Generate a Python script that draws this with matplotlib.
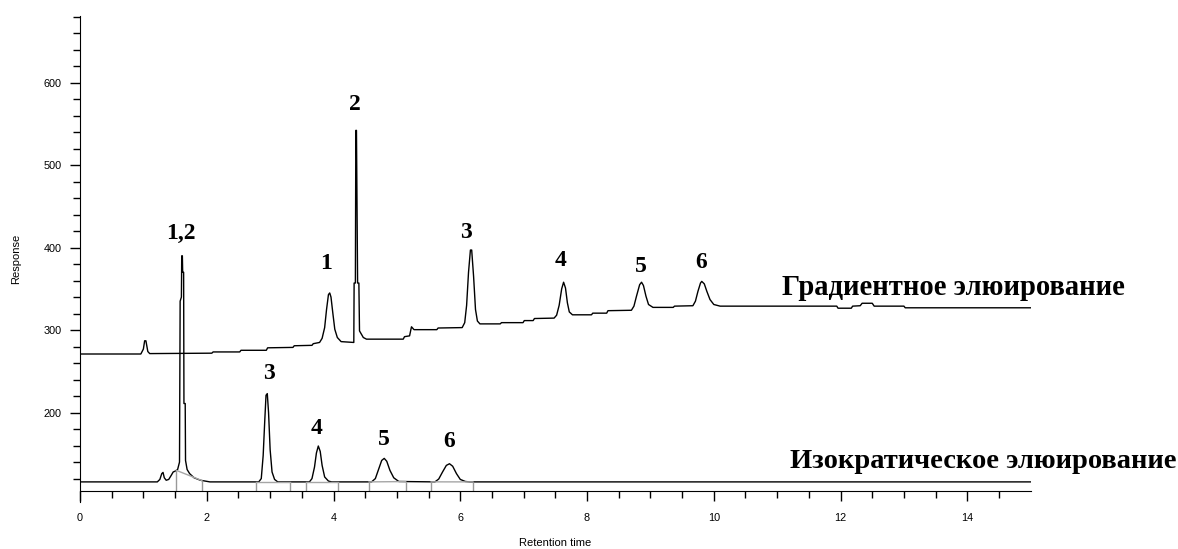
import numpy as np
import matplotlib.pyplot as plt
from matplotlib.ticker import FixedLocator, MultipleLocator

# gradient elution trace (retention time, response)
grad_time = [0.00, 0.96, 1.00, 1.02, 1.04, 1.07, 1.10, 2.08, 2.10, 2.52, 2.54, 2.94, 2.96, 3.36,
             3.38, 3.66, 3.68, 3.78, 3.82, 3.86, 3.89, 3.92, 3.94, 3.96, 3.99, 4.02, 4.06, 4.12,
             4.32, 4.325, 4.345, 4.352, 4.362, 4.38, 4.40, 4.41, 4.47, 4.52, 5.10, 5.12, 5.20, 5.23,
             5.27, 5.63, 5.65, 6.03, 6.07, 6.10, 6.13, 6.16, 6.18, 6.21, 6.24, 6.27, 6.31, 6.63,
             6.65, 6.99, 7.01, 7.15, 7.17, 7.48, 7.52, 7.56, 7.60, 7.63, 7.66, 7.69, 7.72, 7.77,
             8.07, 8.09, 8.31, 8.33, 8.70, 8.74, 8.78, 8.83, 8.86, 8.89, 8.93, 8.97, 9.04, 9.36,
             9.38, 9.67, 9.71, 9.75, 9.79, 9.81, 9.85, 9.89, 9.94, 10.00, 10.10, 11.94, 11.96, 12.17,
             12.19, 12.31, 12.34, 12.50, 12.53, 13.00, 13.02, 15.00]
grad_resp = [271.0, 271.0, 277.0, 287.0, 287.0, 274.0, 271.5, 272.0, 273.5, 273.5, 275.5, 275.5, 278.5, 279.0,
             281.0, 281.5, 283.5, 285.0, 290.0, 303.0, 325.0, 343.0, 345.0, 340.0, 320.0, 301.0, 291.0, 286.0,
             285.0, 357.0, 357.0, 542.0, 542.0, 357.0, 357.0, 299.0, 291.0, 289.0, 289.0, 292.0, 293.0, 304.0,
             300.5, 300.5, 302.5, 303.0, 309.0, 330.0, 370.0, 397.0, 397.0, 365.0, 325.0, 311.0, 307.5, 307.5,
             309.0, 309.0, 311.5, 311.5, 314.0, 314.5, 318.0, 330.0, 350.0, 358.0, 351.0, 333.0, 322.0, 318.5,
             318.5, 320.5, 320.5, 323.5, 324.0, 329.0, 341.0, 355.0, 358.0, 354.0, 341.0, 331.0, 327.5, 327.5,
             329.0, 329.5, 335.0, 347.0, 357.0, 359.0, 356.0, 347.0, 337.0, 331.0, 329.0, 329.0, 326.5, 326.5,
             329.0, 329.5, 332.5, 332.5, 329.0, 329.0, 327.0, 327.0]

# isocratic elution trace
iso_time = [0.00, 1.22, 1.26, 1.29, 1.31, 1.33, 1.36, 1.40, 1.44, 1.47, 1.50, 1.54, 1.57, 1.58,
            1.60, 1.605, 1.615, 1.62, 1.635, 1.64, 1.66, 1.665, 1.69, 1.73, 1.80, 1.90, 2.05, 2.82,
            2.86, 2.89, 2.915, 2.935, 2.955, 2.975, 3.00, 3.03, 3.07, 3.12, 3.62, 3.66, 3.70, 3.73,
            3.76, 3.79, 3.82, 3.86, 3.92, 3.97, 4.60, 4.66, 4.71, 4.76, 4.80, 4.84, 4.89, 4.95,
            5.03, 5.60, 5.66, 5.72, 5.78, 5.83, 5.88, 5.94, 6.00, 6.08, 6.15, 15.00]
iso_resp = [116.0, 116.0, 119.0, 126.0, 127.5, 121.0, 118.0, 119.0, 124.0, 128.0, 129.0, 131.0, 140.0, 335.0,
            340.0, 390.0, 390.0, 370.0, 370.0, 211.0, 211.0, 142.0, 131.0, 126.0, 121.0, 118.0, 116.0, 116.0,
            120.0, 148.0, 190.0, 221.0, 223.0, 200.0, 155.0, 128.0, 119.0, 116.0, 116.0, 120.0, 134.0, 151.0,
            159.5, 153.0, 136.0, 122.0, 117.0, 116.0, 116.0, 120.0, 131.0, 142.0, 144.5, 141.0, 130.0, 121.0,
            116.5, 116.0, 119.5, 128.0, 136.0, 138.0, 135.0, 126.0, 119.0, 116.5, 116.0, 116.0]

# integration limits on the isocratic run
iso_marks = [1.52, 1.92, 2.78, 3.32, 3.56, 4.07, 4.56, 5.14, 5.54, 6.20]

grad_peaks = [3.94, 4.36, 6.17, 7.63, 8.86, 9.81]
grad_names = ['1', '2', '3', '4', '5', '6']
iso_peaks = [1.61, 2.945, 3.76, 4.80, 5.83]
iso_names = ['1,2', '3', '4', '5', '6']

# label offsets from the peak apex, pixels
grad_offs = [(-4, 29), (-1, 26), (-4, 18), (-3, 22), (-1, 16), (-1, 19)]
iso_offs = [(-1, 22), (2, 20), (-2, 18), (0, 19), (0, 22)]

serif = dict(family='Liberation Serif', weight='bold')

fig = plt.figure(figsize=(11.78, 5.49), dpi=100)
ax = fig.add_axes([80 / 1178, 1 - 501.7 / 549, 950.7 / 1178, 486 / 549])

ax.plot(grad_time, grad_resp, color='black', lw=1.0)
ax.plot(iso_time, iso_resp, color='black', lw=1.0)

base = 105
mark_y = np.interp(iso_marks, iso_time, iso_resp)
ax.vlines(iso_marks, base, mark_y, color='0.6', lw=1.0)
for i in range(0, len(iso_marks), 2):
    ax.plot(iso_marks[i:i + 2], mark_y[i:i + 2], color='0.65', lw=1.0)


def label_peaks(t, r, peaks, names, offs):
    t = np.array(t)
    r = np.array(r)
    for p, name, off in zip(peaks, names, offs):
        win = np.abs(t - p) < 0.06
        k = np.argmax(np.where(win, r, -1))
        ax.annotate(name, (t[k], r[k]), xytext=off, textcoords='offset pixels',
                    ha='center', va='center', fontsize=17, **serif)


label_peaks(grad_time, grad_resp, grad_peaks, grad_names, grad_offs)
label_peaks(iso_time, iso_resp, iso_peaks, iso_names, iso_offs)

ax.text(11.07, 342.5, 'Градиентное элюирование', fontsize=20.6, va='baseline', **serif)
ax.text(11.2, 132.4, 'Изократическое элюирование', fontsize=20.5, va='baseline', **serif)

ax.set_xlim(0, 15)
ax.set_ylim(92, 681)
ax.spines[['top', 'right']].set_visible(False)
ax.spines['bottom'].set_position(('data', base))

ax.xaxis.set_major_locator(MultipleLocator(2))
ax.xaxis.set_minor_locator(FixedLocator(np.arange(0.5, 15, 0.5)))
ax.yaxis.set_major_locator(FixedLocator([200, 300, 400, 500, 600]))
ax.yaxis.set_minor_locator(FixedLocator(np.arange(120, 681, 20)))
ax.tick_params(which='major', length=7.5, width=1.0, labelsize=7.8, pad=6)
ax.tick_params(axis='x', which='major', pad=8)
ax.tick_params(which='minor', length=4.8, width=1.0)
for lab in ax.get_xticklabels() + ax.get_yticklabels():
    lab.set_family('Liberation Sans')

ax.set_xlabel('Retention time', fontsize=8, family='Liberation Sans', labelpad=11)
ax.set_ylabel('Response', fontsize=8, family='Liberation Sans', labelpad=16)

fig.savefig('out.png', dpi=100)
